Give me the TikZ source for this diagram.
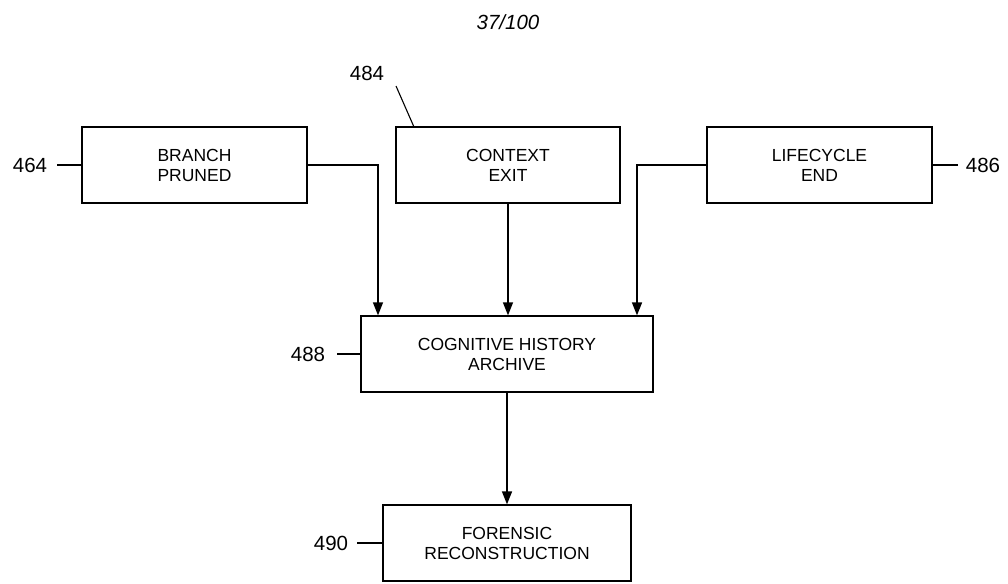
\documentclass[tikz,border=0pt]{standalone}
\usepackage{fontspec}
\setmainfont{Liberation Sans}
\usetikzlibrary{arrows.meta}
\begin{document}
\begin{tikzpicture}[x=1pt,y=-1pt,
  box/.style={draw, line width=1.2pt, minimum width=#1, minimum height=76pt, inner sep=0pt, align=center, font=\fontsize{17.5}{20}\selectfont},
  lbl/.style={font=\fontsize{20.5}{24}\selectfont, inner sep=0pt},
  conn/.style={line width=1.3pt, -{Triangle[length=13pt,width=10pt]}},
  lead/.style={line width=1.1pt}]
\useasboundingbox (0,0) rectangle (1008,583);
\node[font=\itshape\fontsize{20.5}{24}\selectfont] (title) at (508,22) {37/100};
\node[box=225pt] (bp) at (194.5,165) {BRANCH\\PRUNED};
\node[box=224pt] (ce) at (508,165) {CONTEXT\\EXIT};
\node[box=225pt] (le) at (819.5,165) {LIFECYCLE\\END};
\node[box=292pt] (ar) at (507,354) {COGNITIVE HISTORY\\ARCHIVE};
\node[box=248pt] (fr) at (507,543) {FORENSIC\\RECONSTRUCTION};
% labels
\node[lbl] (l464) at (30,165) {464};
\node[lbl] (l484) at (367,73) {484};
\node[lbl] (l486) at (983,165) {486};
\node[lbl] (l488) at (308,354) {488};
\node[lbl] (l490) at (331,543) {490};
\coordinate (c464) at (57,165);
\coordinate (c484) at (396,86);
\coordinate (t484) at (414,127);
\coordinate (c486) at (958,165);
\coordinate (c488) at (337,354);
\coordinate (c490) at (357,543);
\draw[lead] (c464) -- (bp.west);
\draw[lead] (c484) -- (t484);
\draw[lead] (c486) -- (le.east);
\draw[lead] (c488) -- (ar.west);
\draw[lead] (c490) -- (fr.west);
% connectors
\draw[conn] (bp.east) -| (ar.north -| 378,0);
\draw[conn] (ce.south) -- (ar.north -| ce.south);
\draw[conn] (le.west) -| (ar.north -| 637,0);
\draw[conn] (ar.south) -- (fr.north);
\end{tikzpicture}
\end{document}
